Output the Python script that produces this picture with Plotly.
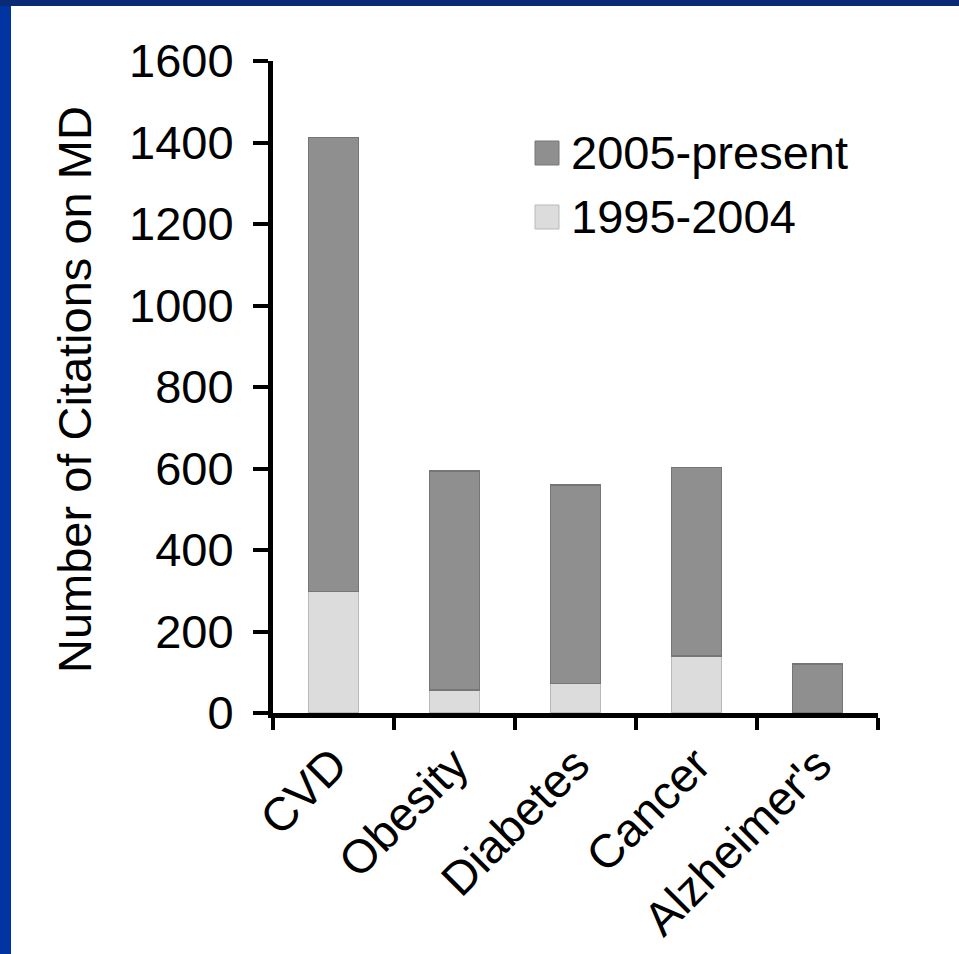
import plotly.graph_objects as go

# Citation counts on MD research by disease area
categories = ["CVD", "Obesity", "Diabetes", "Cancer", "Alzheimer's"]
early_period = [298, 56, 72, 140, 0]          # 1995-2004
recent_period = [1114, 538, 488, 463, 120]    # 2005-present
series_names = ["1995-2004", "2005-present"]
y_ticks = [0, 200, 400, 600, 800, 1000, 1200, 1400, 1600]

W, H = 959, 954
M_L, M_R, M_T, M_B = 273, 81, 61, 241
PW, PH = W - M_L - M_R, H - M_T - M_B

DARK = "#8f8f8f"
LIGHT = "#dcdcdc"
FONT = "Liberation Sans, Arial, sans-serif"
FS = 47


def px_x(px):
    return (px - M_L) / PW


def px_y(py):
    return (H - M_B - py) / PH


fig = go.Figure()
fig.add_trace(go.Bar(
    x=categories, y=early_period, name=series_names[0],
    marker=dict(color=LIGHT, line=dict(color="#b9b9b9", width=1.5)),
    showlegend=False,
))
fig.add_trace(go.Bar(
    x=categories, y=recent_period, name=series_names[1],
    marker=dict(color=DARK, line=dict(color="#767676", width=1.5)),
    showlegend=False,
))

shapes = [
    # frame strips along the top and left edges
    dict(type="rect", xref="paper", yref="paper", layer="above",
         x0=px_x(0), x1=px_x(11), y0=px_y(H), y1=px_y(0),
         fillcolor="#0034a0", line=dict(width=0)),
    dict(type="rect", xref="paper", yref="paper", layer="above",
         x0=px_x(0), x1=px_x(W), y0=px_y(6), y1=px_y(0),
         fillcolor="#0a2a76", line=dict(width=0)),
]

annotations = [
    dict(text="Number of Citations on MD", xref="paper", yref="paper",
         x=px_x(74), y=px_y(390), textangle=-90, showarrow=False,
         xanchor="center", yanchor="middle",
         font=dict(family=FONT, size=FS, color="black")),
]

# legend drawn as swatches + labels, newest period first
legend_rows = [(series_names[1], DARK, "#767676", 153),
               (series_names[0], LIGHT, "#b9b9b9", 217)]
for label, fill, edge, cy in legend_rows:
    shapes.append(dict(type="rect", xref="paper", yref="paper",
                       x0=px_x(535), x1=px_x(559),
                       y0=px_y(cy + 12), y1=px_y(cy - 12),
                       fillcolor=fill, line=dict(color=edge, width=1)))
    annotations.append(dict(text=label, xref="paper", yref="paper",
                            x=px_x(569), y=px_y(cy), showarrow=False,
                            xanchor="left", yanchor="middle",
                            font=dict(family=FONT, size=FS, color="black")))

fig.update_layout(
    width=W, height=H,
    margin=dict(l=M_L, r=M_R, t=M_T, b=M_B, pad=0, autoexpand=False),
    barmode="stack", bargap=0.59,
    paper_bgcolor="white", plot_bgcolor="white",
    font=dict(family=FONT, size=FS, color="black"),
    shapes=shapes, annotations=annotations,
    showlegend=False,
)
fig.update_xaxes(
    automargin=False,
    showline=True, linecolor="black", linewidth=5,
    ticks="outside", ticklen=12, tickwidth=4, tickcolor="black",
    tickson="boundaries", tickangle=-45,
    tickfont=dict(family=FONT, size=FS, color="black"),
    showgrid=False, zeroline=False,
)
fig.update_yaxes(
    automargin=False,
    range=[0, 1600], tickvals=y_ticks,
    showline=True, linecolor="black", linewidth=5,
    ticks="outside", ticklen=15, tickwidth=4, tickcolor="black",
    ticklabelstandoff=10,
    tickfont=dict(family=FONT, size=FS, color="black"),
    showgrid=False, zeroline=False,
)

fig.write_html("out.html")
